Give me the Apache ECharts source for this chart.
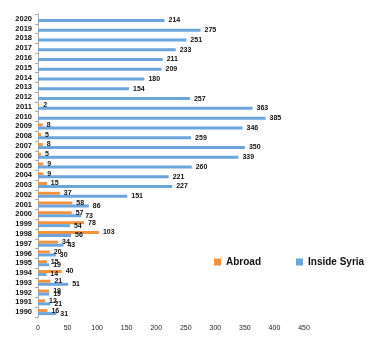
<!DOCTYPE html>
<html>
<head>
<meta charset="utf-8">
<script src="https://cdn.jsdelivr.net/npm/echarts@6/dist/echarts.min.js"></script>
<style>
    html, body {margin: 0; padding: 0; background: #fff;}
    #chart {width: 387px; height: 352px;}
</style>
</head>
<body>
<div id="chart"></div>
<script>
var years = ['1990', '1991', '1992', '1993', '1994', '1995', '1996', '1997', '1998', '1999',
    '2000', '2001', '2002', '2003', '2004', '2005', '2006', '2007', '2008', '2009',
    '2010', '2011', '2012', '2013', '2014', '2015', '2016', '2017', '2018', '2019', '2020'];
var abroad = [16, 12, 19, 21, 40, 15, 20, 34, 103, 78,
    57, 58, 37, 15, 9, 9, 5, 8, 5, 8,
    null, 2, null, null, null, null, null, null, null, null, null];
var insideSyria = [31, 21, 19, 51, 14, 19, 30, 43, 56, 54,
    73, 86, 151, 227, 221, 260, 339, 350, 259, 346,
    385, 363, 257, 154, 180, 209, 211, 233, 251, 275, 214];
var xTicks = [0, 50, 100, 150, 200, 250, 300, 350, 400, 450];

var font = "Liberation Sans";
var barLabel = {
    show: true,
    position: 'right',
    distance: 4,
    color: "#111",
    fontSize: 7,
    fontWeight: 'bold',
    fontFamily: font
};

var option = {
    animation: false,
    textStyle: {fontFamily: font},
    grid: {left: 38, right: 83, top: 14, bottom: 35, containLabel: false},
    legend: {
        data: ['Abroad', 'Inside Syria'],
        left: 209,
        top: 252,
        itemWidth: 7,
        itemHeight: 7,
        itemGap: 35,
        icon: 'rect',
        textStyle: {fontSize: 10, fontWeight: 'bold', color: "#111", fontFamily: font}
    },
    xAxis: {
        type: 'value',
        min: xTicks[0],
        max: xTicks[xTicks.length - 1],
        interval: 50,
        axisLine: {show: false},
        axisTick: {show: false},
        splitLine: {show: false},
        axisLabel: {fontSize: 7, color: "#222", margin: 8, fontFamily: font}
    },
    yAxis: {
        type: 'category',
        data: years,
        axisLine: {show: true, lineStyle: {color: "#aaa"}},
        axisTick: {show: true, length: 3, interval: 0, lineStyle: {color: "#aaa"}},
        axisLabel: {fontSize: 7.5, fontWeight: 'bold', color: "#111", margin: 6, interval: 0, fontFamily: font}
    },
    series: [
        {
            name: 'Abroad',
            type: 'bar',
            data: abroad,
            barWidth: 3,
            barGap: '0%',
            itemStyle: {color: "#f5923e"},
            label: barLabel
        },
        {
            name: 'Inside Syria',
            type: 'bar',
            data: insideSyria,
            barWidth: 3,
            itemStyle: {color: "#6aa6dc"},
            label: barLabel
        }
    ]
};

var chart = echarts.init(document.getElementById('chart'));
chart.setOption(option);
</script>
</body>
</html>
